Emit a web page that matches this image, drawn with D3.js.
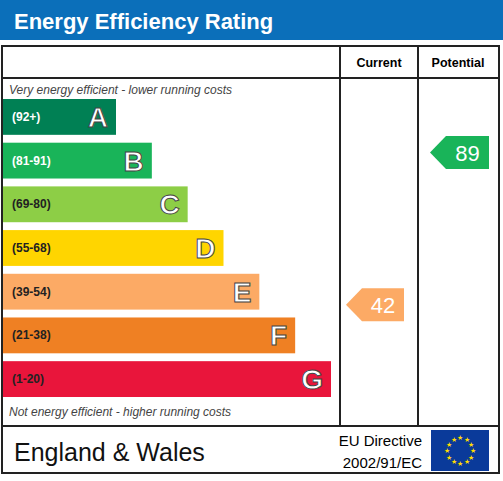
<!DOCTYPE html><html><head><meta charset="utf-8"><script src="https://cdn.jsdelivr.net/npm/d3@7"></script>
<style>body{margin:0;background:#fff}text{font-family:Arial,"Liberation Sans",sans-serif}</style></head><body>
<svg id="c" width="503" height="481"></svg>
<script>
const bands=["A","B","C","D","E","F","G"];
const ranges=["(92+)","(81-91)","(69-80)","(55-68)","(39-54)","(21-38)","(1-20)"];
const colors=["#008054","#19b459","#8dce46","#ffd500","#fcaa65","#ef8023","#e9153b"];
const widthIdx=[1,2,3,4,5,6,7];
const currentRating=42, currentBand="E";
const potentialRating=89, potentialBand="B";
const svg=d3.select("#c");
svg.append("rect").attr("x",0).attr("y",0).attr("width",503).attr("height",40).attr("fill","#0b6fba");
svg.append("text").attr("x",14).attr("y",29).attr("fill","#fff").attr("font-size",22).attr("font-weight","bold").text("Energy Efficiency Rating");
const g=svg.append("g");
g.append("rect").attr("x",2).attr("y",46).attr("width",497).attr("height",427).attr("fill","none").attr("stroke","#222").attr("stroke-width",2);
[[2,78,499,78],[340,46,340,426],[418,46,418,426],[2,426,499,426]].forEach(l=>g.append("line").attr("x1",l[0]).attr("y1",l[1]).attr("x2",l[2]).attr("y2",l[3]).attr("stroke","#222").attr("stroke-width",2));
g.append("text").attr("x",379).attr("y",67).attr("text-anchor","middle").attr("font-size",12.5).attr("font-weight","bold").text("Current");
g.append("text").attr("x",458).attr("y",67).attr("text-anchor","middle").attr("font-size",12.5).attr("font-weight","bold").text("Potential");
g.append("text").attr("x",9).attr("y",94).attr("font-size",12).attr("font-style","italic").attr("fill","#444").text("Very energy efficient - lower running costs");
g.append("text").attr("x",9).attr("y",416).attr("font-size",12).attr("font-style","italic").attr("fill","#444").text("Not energy efficient - higher running costs");
const y=d3.scaleBand().domain(bands).range([99,397]).paddingInner(0.18).paddingOuter(0);
const w=d3.scaleLinear().domain([1,7]).range([113,328]);
bands.forEach((b,i)=>{
  const yy=y(b),h=y.bandwidth(),ww=w(widthIdx[i]);
  g.append("rect").attr("x",3).attr("y",yy).attr("width",ww).attr("height",h).attr("fill",colors[i]);
  g.append("text").attr("x",12).attr("y",yy+h/2+4).attr("font-size",12).attr("font-weight","bold").attr("fill",i<2?"#fff":"#222").text(ranges[i]);
  g.append("text").attr("x",3+ww-8).attr("y",yy+h/2+10).attr("text-anchor","end").attr("font-size",28).attr("font-weight","bold").attr("fill","#fff").attr("stroke","#444").attr("stroke-width",1).text(b);
});
function arrow(x0,x1,band,val,off){
  const i=bands.indexOf(band),yy=y(band),h=y.bandwidth(),yc=yy+h/2+off;
  const hh=33;
  const pts=[[x0,yc],[x0+16,yc-hh/2],[x1,yc-hh/2],[x1,yc+hh/2],[x0+16,yc+hh/2]];
  g.append("polygon").attr("points",pts.map(p=>p.join(",")).join(" ")).attr("fill",colors[i]);
  g.append("text").attr("x",(x0+16+x1)/2).attr("y",yc+8).attr("text-anchor","middle").attr("font-size",22).attr("fill","#fff").text(val);
}
arrow(346,404,currentBand,currentRating,13);
arrow(430,489,potentialBand,potentialRating,-8);
svg.append("text").attr("x",14).attr("y",461).attr("font-size",25).attr("fill","#111").text("England & Wales");
svg.append("text").attr("x",422).attr("y",446).attr("text-anchor","end").attr("font-size",15).text("EU Directive");
svg.append("text").attr("x",422).attr("y",468).attr("text-anchor","end").attr("font-size",15).text("2002/91/EC");
svg.append("rect").attr("x",431).attr("y",430).attr("width",58).attr("height",41).attr("fill","#0a3a9a");
d3.range(12).forEach(k=>{const a=k/12*2*Math.PI;svg.append("text").attr("x",460+13*Math.cos(a)).attr("y",450.5+13*Math.sin(a)+2.5).attr("text-anchor","middle").attr("font-size",7).attr("fill","#ffdd00").text("★");});
</script></body></html>
